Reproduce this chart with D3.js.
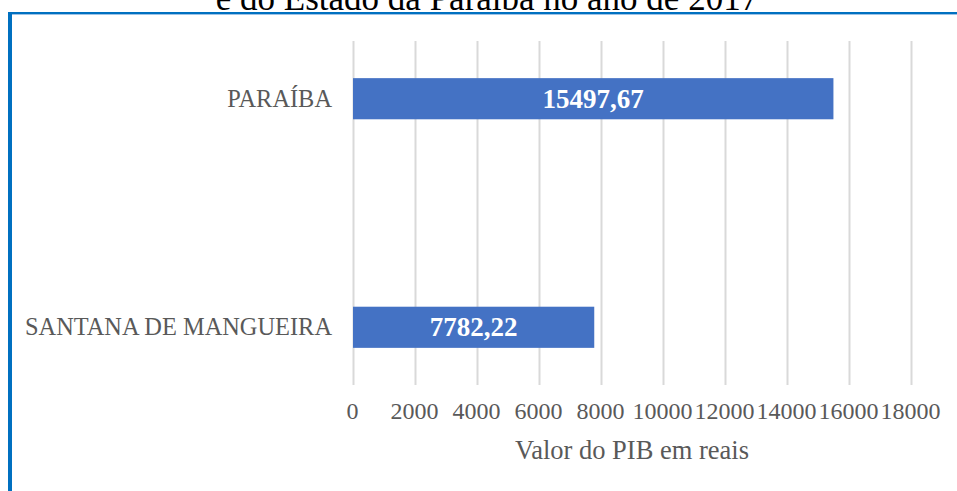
<!DOCTYPE html>
<html><head><meta charset="utf-8">
<script src="https://cdn.jsdelivr.net/npm/d3@7"></script>
<style>html,body{margin:0;padding:0;background:#fff;}svg{display:block;}</style>
</head><body>
<script>
const categories = ["PARAÍBA", "SANTANA DE MANGUEIRA"];
const values = [15497.67, 7782.22];
const valueLabels = ["15497,67", "7782,22"];
const tickValues = [0, 2000, 4000, 6000, 8000, 10000, 12000, 14000, 16000, 18000];
const titleText = "e do Estado da Paraíba no ano de 2017";
const axisTitle = "Valor do PIB em reais";

const W = 957, H = 491;
const svg = d3.select("body").append("svg").attr("width", W).attr("height", H);
const serif = "'Liberation Serif','Times New Roman',serif";

// frame
svg.append("rect").attr("x", 8).attr("y", 12).attr("width", W - 8).attr("height", 2).attr("fill", "#0070C0");
svg.append("rect").attr("x", 12).attr("y", 14).attr("width", W - 12).attr("height", 1).attr("fill", "#9DC3E6");
svg.append("rect").attr("x", 8).attr("y", 12).attr("width", 4).attr("height", H - 12).attr("fill", "#0070C0");

// title (partially cut off, as in the reference)
svg.append("text").attr("x", 487).attr("y", 10).attr("text-anchor", "middle")
  .attr("font-family", serif).attr("font-size", 35).attr("fill", "#000").text(titleText);

const x = d3.scaleLinear().domain([0, 18000]).range([353, 911]);
const y = d3.scaleBand().domain(categories).range([41, 385]).paddingInner(0.82).paddingOuter(0.1625);

// gridlines via axis
const gx = svg.append("g").attr("transform", "translate(0,385)")
  .call(d3.axisBottom(x).tickValues(tickValues).tickSize(-344).tickFormat(d => d));
gx.select(".domain").remove();
gx.selectAll(".tick line").attr("stroke", "#D9D9D9").attr("stroke-width", 2);
gx.selectAll(".tick text").attr("font-family", serif).attr("font-size", 24).attr("fill", "#595959")
  .attr("y", 0).attr("dy", 0).attr("transform", "translate(-1,34)");

// bars
svg.selectAll("rect.bar").data(values).enter().append("rect").attr("class", "bar")
  .attr("x", x(0)).attr("y", (d, i) => y(categories[i]))
  .attr("width", d => x(d) - x(0)).attr("height", y.bandwidth()).attr("fill", "#4472C4");

// value labels
svg.selectAll("text.val").data(values).enter().append("text").attr("class", "val")
  .attr("x", d => (x(0) + x(d)) / 2).attr("y", (d, i) => y(categories[i]) + y.bandwidth() / 2 + 9)
  .attr("text-anchor", "middle").attr("font-family", serif).attr("font-weight", "bold")
  .attr("font-size", 27).attr("fill", "#fff").text((d, i) => valueLabels[i]);

// category labels
svg.selectAll("text.cat").data(categories).enter().append("text").attr("class", "cat")
  .attr("x", 332).attr("y", d => y(d) + y.bandwidth() / 2 + 8)
  .attr("text-anchor", "end").attr("font-family", serif).attr("font-size", 24.4).attr("fill", "#595959")
  .text(d => d);

// axis title
svg.append("text").attr("x", 632).attr("y", 459).attr("text-anchor", "middle")
  .attr("font-family", serif).attr("font-size", 26.5).attr("fill", "#595959").text(axisTitle);
</script>
</body></html>
